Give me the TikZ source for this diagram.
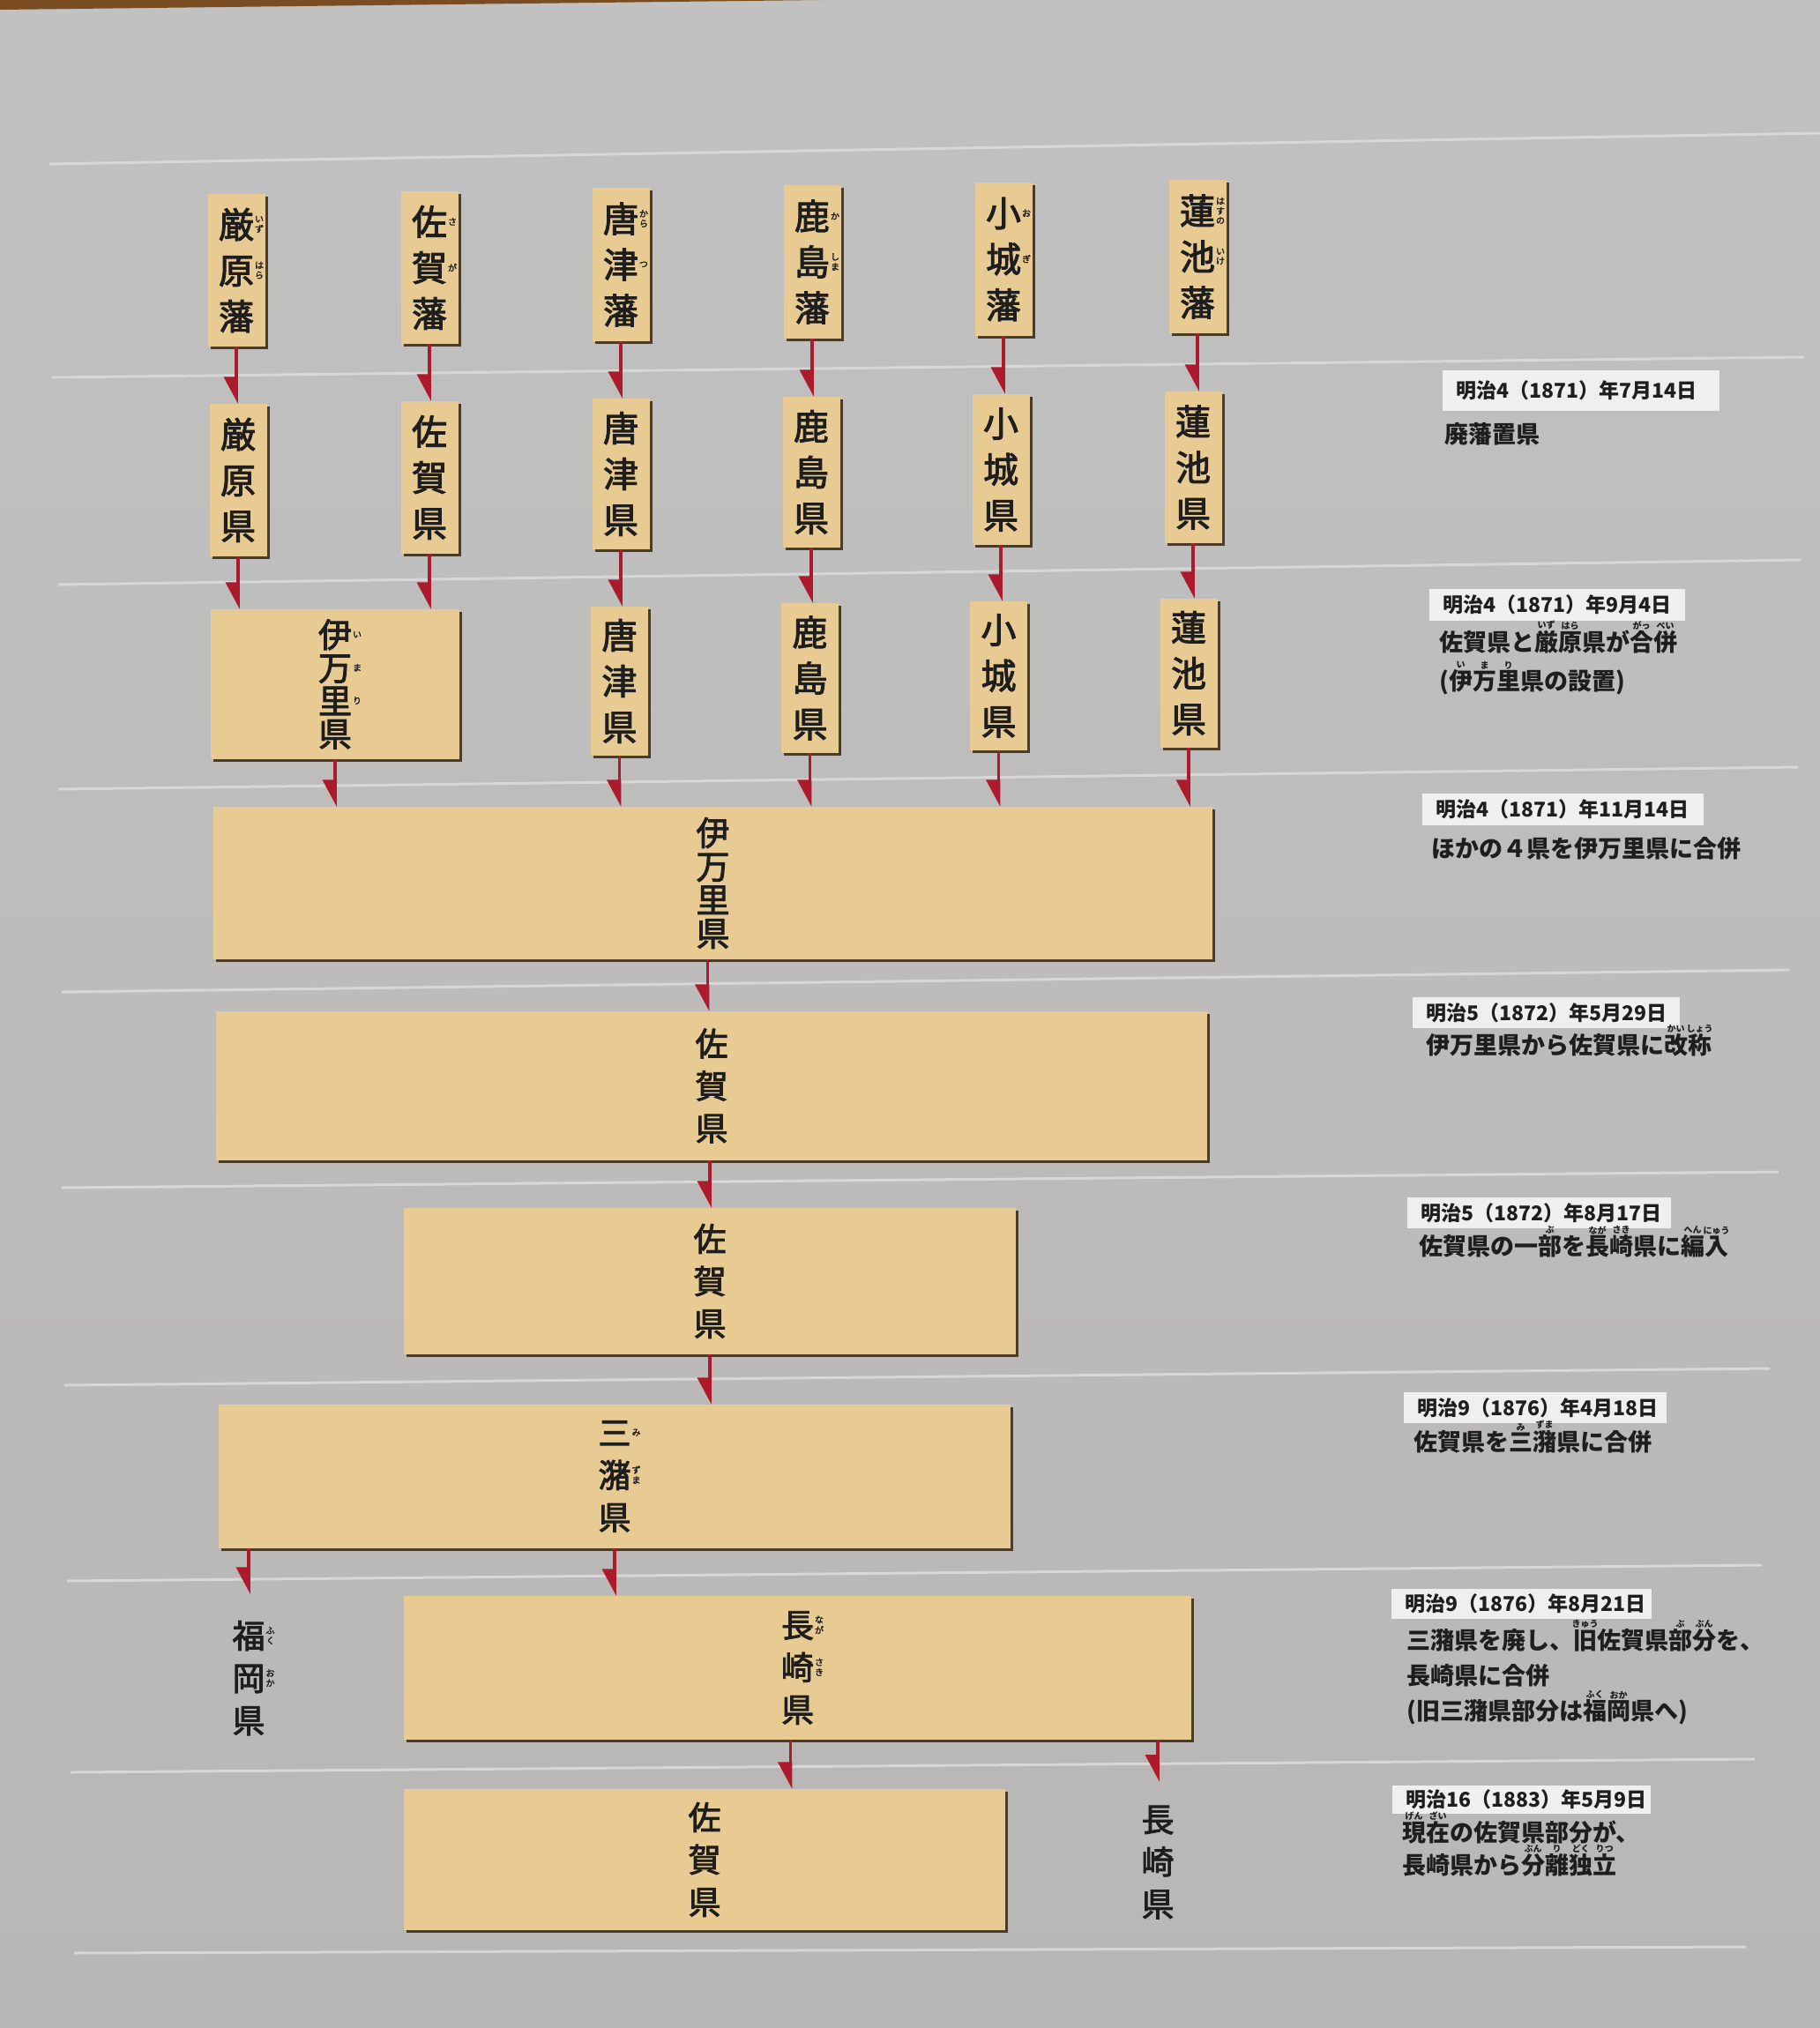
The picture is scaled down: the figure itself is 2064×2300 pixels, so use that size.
\documentclass[tikz,border=0pt]{standalone}
\usepackage{fontspec}
\setmainfont{Noto Sans CJK JP}
\newfontfamily\boxfont{Noto Sans CJK JP}[FakeBold=2.5]
\usetikzlibrary{arrows.meta,shadows}
\definecolor{bgtop}{HTML}{C1C1C1}
\definecolor{bgbot}{HTML}{B8B7B5}
\definecolor{tan}{HTML}{E8CB93}
\definecolor{shad}{HTML}{4A3C28}
\definecolor{arrred}{HTML}{AC1A2C}
\definecolor{sepc}{HTML}{D7D7D8}
\definecolor{lblfill}{HTML}{EFEFEE}
\definecolor{ink}{HTML}{1E1E1E}
\definecolor{wall}{HTML}{7A4E22}
\newbox\rbA \newbox\rbB
\newcommand\rf{\fontsize{10}{11}\selectfont}
\newcommand\rby[2]{\leavevmode\setbox\rbA\hbox{#1}\setbox\rbB\hbox{\rf #2}\vbox{\offinterlineskip\hbox to\wd\rbA{\hss\box\rbB\hss}\kern1pt\box\rbA}}
\newcommand\vr[2]{#1\rlap{\kern1pt\raisebox{\dimexpr0.38em-(\height-\depth)/2\relax}[0pt][0pt]{\rf\shortstack{#2}}}}
\tikzset{
  sepline/.style={draw=sepc, line width=3pt},
  tanbox/.style={fill=tan, text=ink, align=center, inner sep=0pt,
    general shadow={fill=shad, shadow xshift=3pt, shadow yshift=-3pt}},
  sbox/.style={tanbox, minimum width=65pt, font=\boxfont\fontsize{40}{52}\selectfont},
  bbox/.style={tanbox, font=\boxfont\fontsize{37}{48}\selectfont},
  vtxt/.style={text=ink, align=center, inner sep=0pt, font=\boxfont\fontsize{37}{48}\selectfont},
  arr/.style={draw=arrred, line width=3.5pt, -{Triangle[harpoon, swap, length=27pt, width=28pt]}},
  lbl/.style={fill=lblfill, text=ink, anchor=north west, align=left, inner xsep=15pt, inner ysep=0pt, font=\bfseries\fontsize{23}{28}\selectfont},
  desc/.style={anchor=base west, inner sep=0pt, text=ink, font=\bfseries\fontsize{27}{40}\selectfont}
}
\begin{document}
\begin{tikzpicture}[x=1pt,y=-1pt]
\shade[top color=bgtop, bottom color=bgbot] (0,0) rectangle (2064,2300);
\useasboundingbox (0,0) rectangle (2064,2300);
\fill[wall] (0,0) -- (930,0) -- (0,11) -- cycle;
% separator lines
\draw[sepline] (56,186) -- (2064,151);
\draw[sepline] (59,428) -- (2046,405);
\draw[sepline] (66,663) -- (2042,635);
\draw[sepline] (66,895) -- (2039,870);
\draw[sepline] (70,1125) -- (2029,1100);
\draw[sepline] (70,1347) -- (2017,1329);
\draw[sepline] (73,1571) -- (2007,1552);
\draw[sepline] (76,1793) -- (1998,1775);
\draw[sepline] (80,2010) -- (1990,1995);
\draw[sepline] (84,2215) -- (1980,2208);
% row 1
\node[sbox, minimum height=173pt] (h1) at (268,306.5) {\vr{厳}{い\\ず}\\\vr{原}{は\\ら}\\藩};
\node[sbox, minimum height=173pt] (h2) at (487,303.5) {\vr{佐}{さ}\\\vr{賀}{が}\\藩};
\node[sbox, minimum height=174pt] (h3) at (704,300) {\vr{唐}{か\\ら}\\\vr{津}{つ}\\藩};
\node[sbox, minimum height=174pt] (h4) at (921,297) {\vr{鹿}{か}\\\vr{島}{し\\ま}\\藩};
\node[sbox, minimum height=174pt] (h5) at (1138,294) {\vr{小}{お}\\\vr{城}{ぎ}\\藩};
\node[sbox, minimum height=174pt] (h6) at (1358,291) {\vr{蓮}{は\\す\\の}\\\vr{池}{い\\け}\\藩};
% row 2
\node[sbox, minimum height=173pt] (k1) at (270,544.5) {厳\\原\\県};
\node[sbox, minimum height=173pt] (k2) at (487,541.5) {佐\\賀\\県};
\node[sbox, minimum height=171pt] (k3) at (704,537.5) {唐\\津\\県};
\node[sbox, minimum height=171pt] (k4) at (920,535.5) {鹿\\島\\県};
\node[sbox, minimum height=171pt] (k5) at (1135,532.5) {小\\城\\県};
\node[sbox, minimum height=172pt] (k6) at (1353,530) {蓮\\池\\県};
% row 3
\node[sbox, minimum width=282pt, minimum height=170pt, font=\boxfont\fontsize{38}{37.5}\selectfont] (imari) at (380,776) {\vr{伊}{い}\\\vr{万}{ま}\\\vr{里}{り}\\県};
\node[sbox, minimum height=169pt] (m3) at (702.5,772.5) {唐\\津\\県};
\node[sbox, minimum height=170pt] (m4) at (918.5,769) {鹿\\島\\県};
\node[sbox, minimum height=169pt] (m5) at (1132.5,766.5) {小\\城\\県};
\node[sbox, minimum height=169pt] (m6) at (1348,763.5) {蓮\\池\\県};
% row 4
\node[bbox, minimum width=1133pt, minimum height=173pt, font=\boxfont\fontsize{38}{38}\selectfont] (big) at (808.5,1001.5) {伊\\万\\里\\県};
% row 5
\node[bbox, minimum width=1124pt, minimum height=169pt] (saga5) at (807,1231.5) {佐\\賀\\県};
% row 6
\node[bbox, minimum width=694pt, minimum height=166pt] (saga6) at (805,1453) {佐\\賀\\県};
% row 7
\node[bbox, minimum width=898pt, minimum height=163pt] (mizuma) at (697,1674.5) {\vr{三}{み}\\\vr{潴}{ず\\ま}\\県};
% row 8
\node[vtxt] (fukuoka) at (282,1903) {\vr{福}{ふ\\く}\\\vr{岡}{お\\か}\\県};
\node[bbox, minimum width=893pt, minimum height=163pt] (naga8) at (904.5,1891.5) {\vr{長}{な\\が}\\\vr{崎}{さ\\き}\\県};
% row 9
\node[bbox, minimum width=682pt, minimum height=160pt] (saga9) at (799,2109) {佐\\賀\\県};
\node[vtxt] (naga9) at (1313,2112) {長\\崎\\県};
% arrows
\foreach \a/\b in {h1/k1,h2/k2,h3/k3,h4/k4,h5/k5,h6/k6,k3/m3,k4/m4,k5/m5,k6/m6}
  \draw[arr] (\a.south) -- (\a.south |- \b.north);
\draw[arr] (k1.south) -- (k1.south |- imari.north);
\draw[arr] (k2.south) -- (k2.south |- imari.north);
\foreach \a in {imari,m3,m4,m5,m6}
  \draw[arr] (\a.south) -- (\a.south |- big.north);
\draw[arr] ([xshift=-6pt]big.south) -- ([xshift=-6pt]big.south |- saga5.north);
\draw[arr] (saga6.north |- saga5.south) -- (saga6.north);
\draw[arr] (saga6.south) -- (saga6.south |- mizuma.north);
\draw[arr] (fukuoka.north |- mizuma.south) -- ([yshift=30pt]fukuoka.north);
\draw[arr] (mizuma.south) -- (mizuma.south |- naga8.north);
\draw[arr] ([xshift=-8pt]naga8.south) -- ([xshift=-8pt]naga8.south |- saga9.north);
\draw[arr] (naga9.north |- naga8.south) -- ([yshift=27pt]naga9.north);
% labels
\node[lbl, text width=284pt, minimum height=46pt] (L1) at (1636,420) {明治4（1871）年7月14日};
\node[lbl, text width=260pt, minimum height=36pt] (L2) at (1621,668) {明治4（1871）年9月4日};
\node[lbl, text width=289pt, minimum height=36pt] (L3) at (1613,900) {明治4（1871）年11月14日};
\node[lbl, text width=273pt, minimum height=35pt] (L4) at (1602,1131) {明治5（1872）年5月29日};
\node[lbl, text width=269pt, minimum height=35pt] (L5) at (1596,1358) {明治5（1872）年8月17日};
\node[lbl, text width=268pt, minimum height=35pt] (L6) at (1592,1579) {明治9（1876）年4月18日};
\node[lbl, text width=265pt, minimum height=34pt] (L7) at (1578,1802) {明治9（1876）年8月21日};
\node[lbl, text width=263pt, minimum height=32pt] (L8) at (1579,2025) {明治16（1883）年5月9日};
% descriptions
\node[desc] (D1) at (1638,502) {廃藩置県};
\node[desc] (D2a) at (1632,738) {佐賀県と\rby{厳}{いず}\rby{原}{はら}県が\rby{合}{がっ}\rby{併}{ぺい}};
\node[desc] (D2b) at (1632,782) {(\rby{伊}{い}\rby{万}{ま}\rby{里}{り}県の設置)};
\node[desc] (D3) at (1623,972) {ほかの４県を伊万里県に合併};
\node[desc] (D4) at (1617,1195) {伊万里県から佐賀県に\rby{改}{かい}\rby{称}{しょう}};
\node[desc] (D5) at (1609,1423) {佐賀県の一\rby{部}{ぶ}を\rby{長}{なが}\rby{崎}{さき}県に\rby{編}{へん}\rby{入}{にゅう}};
\node[desc] (D6) at (1603,1645) {佐賀県を\rby{三}{み}\rby{潴}{ずま}県に合併};
\node[desc] (D7a) at (1595,1870) {三潴県を廃し、\rby{旧}{きゅう}佐賀県\rby{部}{ぶ}\rby{分}{ぶん}を、};
\node[desc] (D7b) at (1595,1910) {長崎県に合併};
\node[desc] (D7c) at (1595,1950) {(旧三潴県部分は\rby{福}{ふく}\rby{岡}{おか}県へ)};
\node[desc] (D8a) at (1590,2088) {\rby{現}{げん}\rby{在}{ざい}の佐賀県部分が、};
\node[desc] (D8b) at (1590,2125) {長崎県から\rby{分}{ぶん}\rby{離}{り}\rby{独}{どく}\rby{立}{りつ}};
\end{tikzpicture}
\end{document}
